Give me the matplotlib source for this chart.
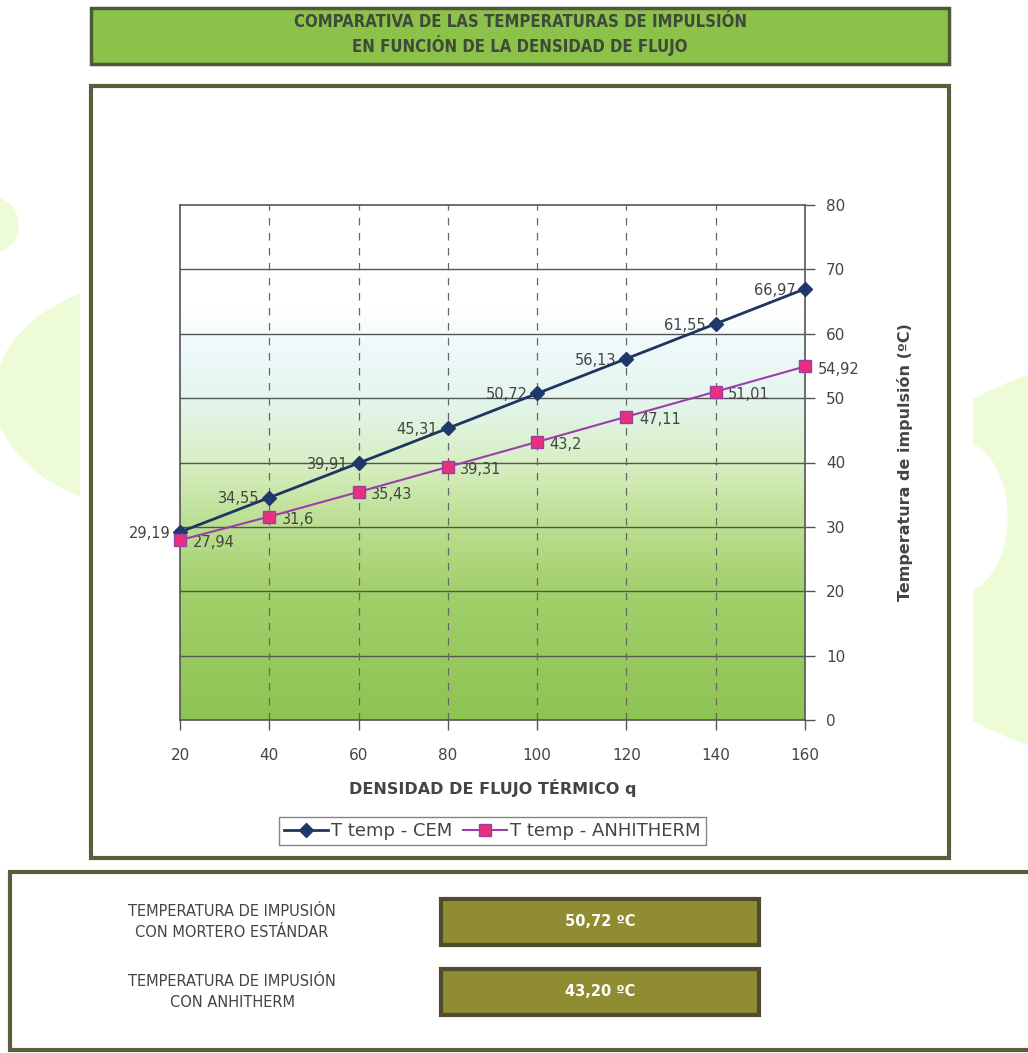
import numpy as np
import matplotlib.pyplot as plt
from matplotlib.patches import Rectangle, Ellipse
from matplotlib.colors import LinearSegmentedColormap

# data
flux = [20, 40, 60, 80, 100, 120, 140, 160]
t_cem = [29.19, 34.55, 39.91, 45.31, 50.72, 56.13, 61.55, 66.97]
t_anh = [27.94, 31.6, 35.43, 39.31, 43.2, 47.11, 51.01, 54.92]
lbl_cem = ["29,19", "34,55", "39,91", "45,31", "50,72", "56,13", "61,55", "66,97"]
lbl_anh = ["27,94", "31,6", "35,43", "39,31", "43,2", "47,11", "51,01", "54,92"]
y_ticks = [0, 10, 20, 30, 40, 50, 60, 70, 80]
series_names = ["T temp - CEM", "T temp - ANHITHERM"]
result_texts = ["TEMPERATURA DE IMPUSIÓN\nCON MORTERO ESTÁNDAR", "TEMPERATURA DE IMPUSIÓN\nCON ANHITHERM"]
result_values = ["50,72 ºC", "43,20 ºC"]

W, H = 1028, 1053
fig = plt.figure(figsize=(W / 100, H / 100), dpi=100)
fig.patch.set_facecolor("white")

# page layer in pixel coordinates
bg = fig.add_axes([0, 0, 1, 1])
bg.set_xlim(0, W)
bg.set_ylim(H, 0)
bg.axis("off")

pale = "#edfbd6"
# decorative background shapes
bg.add_patch(Ellipse((-10, 225), 56, 56, color=pale, zorder=0))
clip_l = Rectangle((0, 0), 80, H, transform=bg.transData)
e2 = Ellipse((160, 395), 330, 230, color=pale, zorder=0)
bg.add_patch(e2)
e2.set_clip_path(clip_l)
clip_r = Rectangle((973, 0), 60, H, transform=bg.transData)
e3 = Ellipse((1250, 560), 800, 444, color=pale, zorder=0)
e4 = Ellipse((960, 517), 94, 150, color="white", zorder=0.5)
for e in (e3, e4):
    bg.add_patch(e)
    e.set_clip_path(clip_r)

# title box
bg.add_patch(Rectangle((91, 8), 858, 56, facecolor="#8cc24a", edgecolor="#4d5a3a", lw=2.5, zorder=2))
bg.text(520, 22, "COMPARATIVA DE LAS TEMPERATURAS DE IMPULSIÓN", ha="center", va="center",
        fontsize=12, fontweight="bold", color="#3e4a3a", fontstretch="condensed", zorder=3)
bg.text(520, 45, "EN FUNCIÓN DE LA DENSIDAD DE FLUJO", ha="center", va="center",
        fontsize=12, fontweight="bold", color="#3e4a3a", fontstretch="condensed", zorder=3)

# chart frame
bg.add_patch(Rectangle((91, 86), 858, 772, facecolor="white", edgecolor="#5a5e3c", lw=3, zorder=1))

# bottom results panel
bg.add_patch(Rectangle((10, 872), 1030, 178, facecolor="white", edgecolor="#5a5e3c", lw=3, zorder=1))
for i, (t, v) in enumerate(zip(result_texts, result_values)):
    yc = 922 + i * 70
    bg.text(232, yc, t, ha="center", va="center", fontsize=10.5, color="#444444",
            linespacing=1.5, zorder=3)
    bg.add_patch(Rectangle((441, yc - 23), 318, 46, facecolor="#8f8c32", edgecolor="#4f4d2c",
                           lw=3, zorder=2))
    bg.text(600, yc, v, ha="center", va="center", fontsize=10.5, fontweight="bold",
            color="white", zorder=3)

# chart axes
ax = fig.add_axes([180 / W, 1 - 720 / H, 625 / W, 515 / H])
ax.set_zorder(5)
ax.set_xlim(20, 160)
ax.set_ylim(0, 80)

cmap = LinearSegmentedColormap.from_list("grad", [
    (0.0, "#8ec452"), (0.25, "#a2d06b"), (0.4, "#c0e198"), (0.5, "#d8efc4"),
    (0.62, "#e4f5ee"), (0.72, "#eef9fa"), (0.8, "#ffffff"), (1.0, "#ffffff")])
grad = np.linspace(0, 1, 256).reshape(-1, 1)
ax.imshow(grad, cmap=cmap, origin="lower", extent=[20, 160, 0, 80], aspect="auto", zorder=0)

for y in y_ticks[1:-1]:
    ax.axhline(y, color="#555555", lw=1, zorder=1)
for x in flux[1:-1]:
    ax.axvline(x, color="#666666", lw=0.9, ls=(0, (6, 6)), zorder=1)

ax.plot(flux, t_cem, color="#1f3560", lw=2, marker="D", ms=7, mfc="#1f3a6a", mec="#1f3a6a",
        label=series_names[0], zorder=4, clip_on=False)
ax.plot(flux, t_anh, color="#9b3fa8", lw=1.5, marker="s", ms=8, mfc="#e8307f", mec="#9b3fa8",
        label=series_names[1], zorder=4, clip_on=False)

for x, y, s in zip(flux, t_cem, lbl_cem):
    ax.annotate(s, (x, y), xytext=(-7, -1), textcoords="offset points", ha="right", va="center",
                fontsize=10.5, color="#444444", zorder=3)
for x, y, s in zip(flux, t_anh, lbl_anh):
    ax.annotate(s, (x, y), xytext=(9, -2), textcoords="offset points", ha="left", va="center",
                fontsize=10.5, color="#444444", zorder=3)

for sp in ax.spines.values():
    sp.set_color("#555555")
    sp.set_linewidth(1.2)
ax.yaxis.tick_right()
ax.yaxis.set_label_position("right")
ax.set_yticks(y_ticks)
ax.set_xticks(flux)
ax.tick_params(axis="both", colors="#555555", labelcolor="#444444", labelsize=11,
               direction="out", length=7, width=1)
ax.tick_params(axis="y", pad=8)
ax.tick_params(axis="x", pad=13)
ax.set_ylabel("Temperatura de impulsión (ºC)", fontsize=11.5, fontweight="bold",
              color="#444444", labelpad=37)
ax.set_xlabel("DENSIDAD DE FLUJO TÉRMICO q", fontsize=11.5, fontweight="bold",
              color="#444444", labelpad=12)

leg = ax.legend(loc="upper center", bbox_to_anchor=(0.5, -0.17), ncol=2, frameon=True,
                fancybox=False, fontsize=13, handlelength=2.4, handletextpad=0.2,
                columnspacing=0.6, borderpad=0.3, labelcolor="#444444")
leg.get_frame().set_edgecolor("#666666")
leg.get_frame().set_linewidth(1)

fig.savefig("out.png", dpi=100)
